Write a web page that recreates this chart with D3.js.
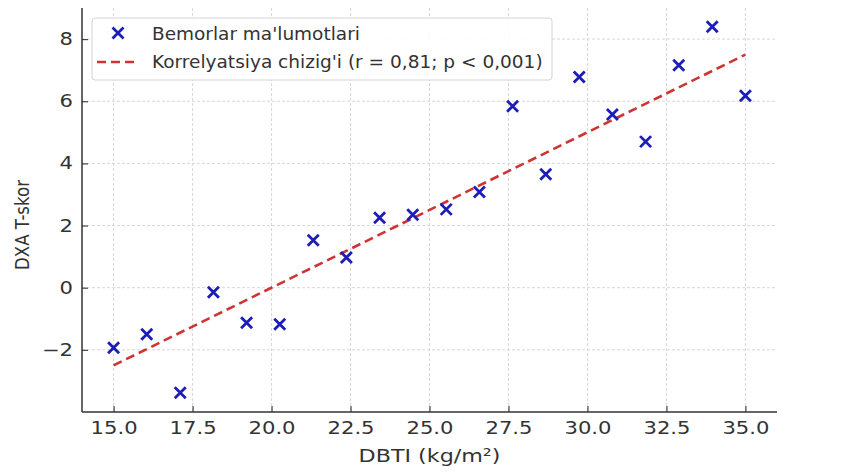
<!DOCTYPE html>
<html>
<head>
<meta charset="utf-8">
<script src="https://cdn.jsdelivr.net/npm/d3@7"></script>
<style>
  html, body { margin: 0; padding: 0; background: #fff; }
  svg { display: block; }
  text { font-family: "DejaVu Sans", sans-serif; fill: #333; }
</style>
</head>
<body>
<svg id="chart" width="847" height="475"></svg>
<script>
// ---- data ----
const dbti = [15.0, 16.05, 17.11, 18.16, 19.21, 20.26, 21.32, 22.37, 23.42, 24.47,
              25.53, 26.58, 27.63, 28.68, 29.74, 30.79, 31.84, 32.89, 33.95, 35.0];
const tScore = [-1.93, -1.5, -3.38, -0.15, -1.13, -1.18, 1.53, 0.97, 2.25, 2.35,
                2.52, 3.08, 5.84, 3.65, 6.78, 5.57, 4.7, 7.16, 8.4, 6.18];
const fitX = [15.0, 35.0];
const fitY = [-2.5, 7.5];
const xTicks = [15.0, 17.5, 20.0, 22.5, 25.0, 27.5, 30.0, 32.5, 35.0];
const yTicks = [-2, 0, 2, 4, 6, 8];
const legendLabels = ["Bemorlar ma'lumotlari", "Korrelyatsiya chizig'i (r = 0,81; p < 0,001)"];
const xLabel = "DBTI (kg/m\u00b2)";
const yLabel = "DXA T-skor";

// ---- layout ----
const L = 82, R = 777, T = 8, B = 412;
const svg = d3.select("#chart");
const x = d3.scaleLinear().domain([14.0, 36.0]).range([L, R]);
const y = d3.scaleLinear().domain([-4, 9]).range([B, T]);

function fitWidth(sel, tx, ty, target, extra) {
  const w = sel.node().getComputedTextLength();
  const s = target / w;
  sel.attr("transform", `translate(${tx},${ty}) ${extra || ""} scale(${s},1)`);
  return s;
}

// grid
const grid = svg.append("g").attr("stroke", "#d2d2d2").attr("stroke-width", 0.9)
  .attr("stroke-dasharray", "3,2").attr("fill", "none");
grid.selectAll(".gx").data(xTicks).join("line")
  .attr("x1", d => x(d)).attr("x2", d => x(d)).attr("y1", T).attr("y2", B);
grid.selectAll(".gy").data(yTicks).join("line")
  .attr("x1", L).attr("x2", R).attr("y1", d => y(d)).attr("y2", d => y(d));

// axes
const xAxis = svg.append("g").attr("transform", `translate(0,${B})`)
  .call(d3.axisBottom(x).tickValues(xTicks).tickFormat(d3.format(".1f")).tickSize(-6).tickPadding(10));
const yAxis = svg.append("g").attr("transform", `translate(${L},0)`)
  .call(d3.axisLeft(y).tickValues(yTicks).tickFormat(d3.format("d")).tickSize(-6).tickPadding(9));
[xAxis, yAxis].forEach(a => {
  a.select(".domain").remove();
  a.selectAll(".tick line").attr("stroke", "#444").attr("stroke-width", 1.2);
  a.selectAll(".tick text").attr("fill", "#333").style("font-size", "17.5px")
    .style("font-family", "DejaVu Sans, sans-serif");
});
const refLen = xAxis.select(".tick text").node().getComputedTextLength();
const SX = 47 / refLen;
xAxis.selectAll(".tick text").attr("transform", `scale(${SX},1)`);
yAxis.selectAll(".tick text").attr("x", -9 / SX).attr("transform", `scale(${SX},1)`);

// spines
svg.append("line").attr("x1", L).attr("x2", L).attr("y1", T).attr("y2", B)
  .attr("stroke", "#333").attr("stroke-width", 1.5);
svg.append("line").attr("x1", L).attr("x2", R).attr("y1", B).attr("y2", B)
  .attr("stroke", "#333").attr("stroke-width", 1.5);

// regression line
const fitData = fitX.map((d, i) => [d, fitY[i]]);
svg.append("path").datum(fitData)
  .attr("d", d3.line().x(d => x(d[0])).y(d => y(d[1])))
  .attr("fill", "none").attr("stroke", "#cf3434").attr("stroke-width", 2.6)
  .attr("stroke-dasharray", "9,5");

// markers
const ms = 5.5;
const markerPath = `M${-ms},${-ms}L${ms},${ms}M${-ms},${ms}L${ms},${-ms}`;
svg.append("g").selectAll("path").data(dbti.map((d, i) => [d, tScore[i]])).join("path")
  .attr("transform", d => `translate(${x(d[0])},${y(d[1])})`)
  .attr("d", markerPath).attr("stroke", "#1c1cb8").attr("stroke-width", 2.8).attr("fill", "none");

// axis labels
const xl = svg.append("text").attr("text-anchor", "middle").style("font-size", "18px").text(xLabel);
fitWidth(xl, (L + R) / 2, 462, 142);
const yl = svg.append("text").attr("text-anchor", "middle").style("font-size", "17.5px").text(yLabel);
{
  const w = yl.node().getComputedTextLength();
  yl.attr("transform", `translate(29,225) rotate(-90) scale(${90 / w},1.15)`);
}

// legend
const lg = svg.append("g");
lg.append("rect").attr("x", 92).attr("y", 18).attr("width", 460).attr("height", 62)
  .attr("rx", 3).attr("fill", "#fff").attr("fill-opacity", 0.9)
  .attr("stroke", "#d4d4d4").attr("stroke-width", 1);
lg.append("path").attr("transform", "translate(118,33)").attr("d", markerPath)
  .attr("stroke", "#1c1cb8").attr("stroke-width", 2.8).attr("fill", "none");
lg.append("line").attr("x1", 97).attr("x2", 137).attr("y1", 62).attr("y2", 62)
  .attr("stroke", "#cf3434").attr("stroke-width", 2.6).attr("stroke-dasharray", "9,5");
const legendWidths = [208, 391];
legendLabels.forEach((t, i) => {
  const tx = lg.append("text").style("font-size", "18px").text(t);
  fitWidth(tx, 152, 40 + i * 28, legendWidths[i]);
});
</script>
</body>
</html>
